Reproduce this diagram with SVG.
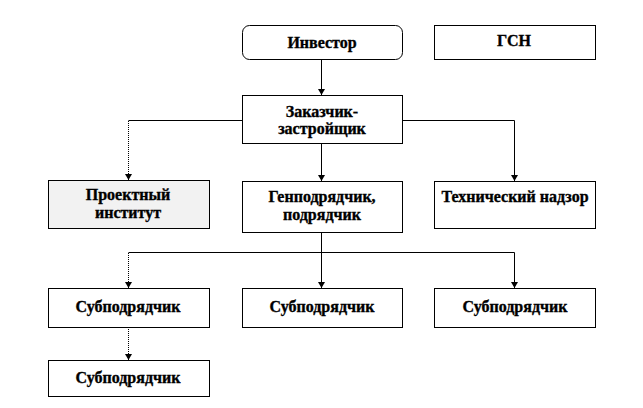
<svg xmlns="http://www.w3.org/2000/svg" width="643" height="408" viewBox="0 0 643 408">
<style>
.box{fill:#fff;stroke:#000;stroke-width:1}
.t{font-family:"Liberation Serif","Times New Roman",serif;font-weight:bold;font-size:16px;text-anchor:middle;fill:#000;stroke:#000;stroke-width:0.35}
.c{fill:none;stroke:#000;stroke-width:1}
.d{fill:none;stroke:#000;stroke-width:1;stroke-dasharray:1 1}
</style>
<defs>
<marker id="m" markerWidth="8" markerHeight="8" refX="4" refY="7" markerUnits="userSpaceOnUse" viewBox="0 0 8 8">
<path d="M0.5,1 L7.5,1 L4,7 Z" fill="#000"/>
</marker>
</defs>
<rect width="643" height="408" fill="#fff"/>
<g id="connectors">
<path class="c" d="M321.5,59 V95" marker-end="url(#m)"/>
<path class="c" d="M242,120.5 H128.5"/>
<path class="d" d="M128.5,121 V180" marker-end="url(#m)"/>
<path class="c" d="M402,120.5 H514.5 V181" marker-end="url(#m)"/>
<path class="c" d="M321.5,143 V181" marker-end="url(#m)"/>
<path class="c" d="M321.5,232 V288" marker-end="url(#m)"/>
<path class="c" d="M128.5,252.5 H514.5 V288" marker-end="url(#m)"/>
<path class="d" d="M128.5,253 V288" marker-end="url(#m)"/>
<path class="d" d="M128.5,327 V360" marker-end="url(#m)"/>
</g>
<g id="investor">
<rect class="box" x="242.5" y="25.5" width="160" height="34" rx="7"/>
<text class="t" x="322" y="48">Инвестор</text>
</g>
<g id="gsn">
<rect class="box" x="434.5" y="25.5" width="161" height="34"/>
<text class="t" x="514" y="46">ГСН</text>
</g>
<g id="zakazchik">
<rect class="box" x="242.5" y="95.5" width="160" height="48"/>
<text class="t" x="322" y="117">Заказчик-</text>
<text class="t" x="322" y="134">застройщик</text>
</g>
<g id="proekt">
<rect class="box" x="48.5" y="180.5" width="161" height="48" style="fill:#f2f2f2"/>
<text class="t" x="128" y="200">Проектный</text>
<text class="t" x="128" y="218">институт</text>
</g>
<g id="genpodryadchik">
<rect class="box" x="242.5" y="181.5" width="160" height="51"/>
<text class="t" x="322" y="202">Генподрядчик,</text>
<text class="t" x="322" y="220">подрядчик</text>
</g>
<g id="tehnadzor">
<rect class="box" x="434.5" y="181.5" width="161" height="47"/>
<text class="t" x="515" y="202">Технический надзор</text>
</g>
<g id="sub1">
<rect class="box" x="48.5" y="288.5" width="161" height="39"/>
<text class="t" x="128" y="312">Субподрядчик</text>
</g>
<g id="sub2">
<rect class="box" x="242.5" y="288.5" width="160" height="39"/>
<text class="t" x="322" y="312">Субподрядчик</text>
</g>
<g id="sub3">
<rect class="box" x="434.5" y="288.5" width="161" height="39"/>
<text class="t" x="515" y="312">Субподрядчик</text>
</g>
<g id="sub4">
<rect class="box" x="48.5" y="360.5" width="161" height="36"/>
<text class="t" x="128" y="383">Субподрядчик</text>
</g>
</svg>
